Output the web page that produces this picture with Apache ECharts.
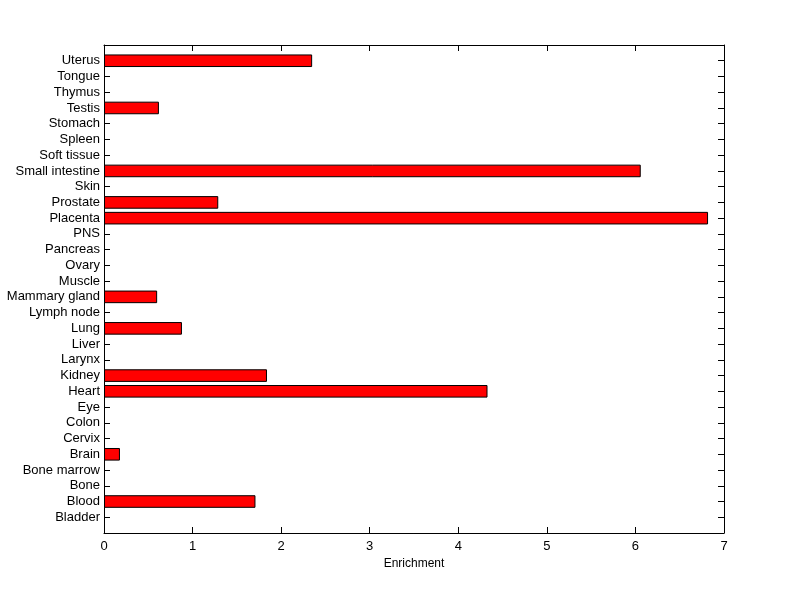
<!DOCTYPE html>
<html><head><meta charset="utf-8">
<script src="https://cdn.jsdelivr.net/npm/echarts@6/dist/echarts.min.js"></script>
<style>html,body{margin:0;padding:0;background:#fff}#c{width:800px;height:599px}</style>
</head><body><div id="c"></div>
<script>
const categories = ['Bladder','Blood','Bone','Bone marrow','Brain','Cervix','Colon','Eye','Heart','Kidney','Larynx','Liver','Lung','Lymph node','Mammary gland','Muscle','Ovary','Pancreas','PNS','Placenta','Prostate','Skin','Small intestine','Soft tissue','Spleen','Stomach','Testis','Thymus','Tongue','Uterus'];
const enrichment = [0, 1.71, 0, 0, 0.18, 0, 0, 0, 4.33, 1.84, 0, 0, 0.88, 0, 0.60, 0, 0, 0, 0, 6.82, 1.29, 0, 6.06, 0, 0, 0, 0.62, 0, 0, 2.35];
const xTicks = [0,1,2,3,4,5,6,7];

const padCats = [''].concat(categories, ['']);
const padVals = [null].concat(enrichment.map(v => v === 0 ? null : v), [null]);
const font = 'Liberation Sans, Arial, sans-serif';
const chart = echarts.init(document.getElementById('c'), null, {renderer:'canvas'});
const line = {show:true, onZero:false, lineStyle:{color:'#000', width:1}};
const tick = {show:true, inside:true, length:6, interval:0, lineStyle:{color:'#000', width:1}};
chart.setOption({
  animation:false,
  backgroundColor:'#fff',
  grid:{left:104, right:76, top:45, bottom:66, containLabel:false},
  xAxis:[{
    type:'value', min:xTicks[0], max:xTicks[xTicks.length-1], interval:1, position:'bottom',
    axisLine:line, axisTick:tick,
    axisLabel:{color:'#000', fontFamily:font, fontSize:13, margin:7},
    splitLine:{show:false},
    name:'Enrichment', nameLocation:'middle', nameGap:23,
    nameTextStyle:{color:'#000', fontFamily:font, fontSize:12}
  },{
    type:'value', min:xTicks[0], max:xTicks[xTicks.length-1], interval:1, position:'top',
    axisLine:line, axisTick:tick,
    axisLabel:{show:false}, splitLine:{show:false}
  }],
  yAxis:[{
    type:'category', data:padCats, boundaryGap:false, position:'left',
    axisLine:line, axisTick:tick,
    axisLabel:{color:'#000', fontFamily:font, fontSize:13, margin:4, interval:0},
    splitLine:{show:false}
  },{
    type:'category', data:padCats, boundaryGap:false, position:'right',
    axisLine:line, axisTick:tick,
    axisLabel:{show:false}, splitLine:{show:false}
  }],
  series:[{
    type:'bar', data:padVals, xAxisIndex:0, yAxisIndex:0, barWidth:'80%',
    itemStyle:{color:'#ff0000', borderColor:'#000', borderWidth:1}
  }]
});
</script></body></html>
